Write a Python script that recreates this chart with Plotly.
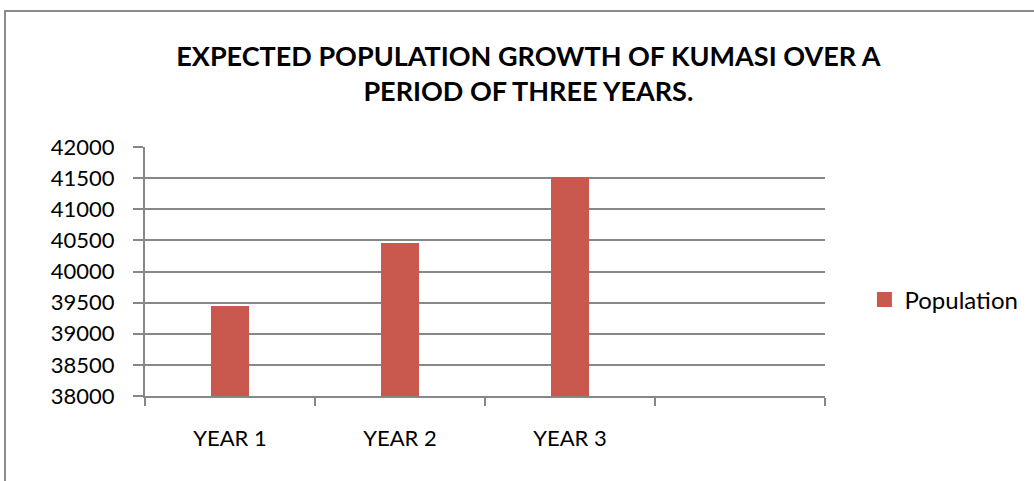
import plotly.graph_objects as go

categories = ["YEAR 1", "YEAR 2", "YEAR 3"]
population = [39440, 40460, 41520]
y_ticks = [38000, 38500, 39000, 39500, 40000, 40500, 41000, 41500, 42000]

FONT = "Lato"
GRID = "#878787"
BAR = "#C9584F"

fig = go.Figure()
fig.add_trace(go.Bar(
    x=list(range(len(categories))), y=population, name="Population",
    marker=dict(color=BAR, line=dict(width=0)), width=0.225,
    showlegend=False,
))
# legend entry with a square swatch
fig.add_trace(go.Scatter(
    x=[None], y=[None], mode="markers", name="Population",
    marker=dict(symbol="square", size=15, color=BAR), showlegend=True,
))

fig.update_layout(
    width=1034, height=481,
    margin=dict(l=145, r=209, t=147, b=85, autoexpand=False),
    paper_bgcolor="white", plot_bgcolor="white",
    font=dict(family=FONT, color="black", size=22),
    title=dict(
        text="<b>EXPECTED POPULATION GROWTH OF KUMASI OVER A<br>PERIOD OF THREE YEARS.</b>",
        x=0.511, xanchor="center", y=0.863, yanchor="middle",
        font=dict(family=FONT, size=27, color="black"),
    ),
    bargap=0,
    showlegend=True,
    legend=dict(x=1.058, xanchor="left", y=0.386, yanchor="middle",
                font=dict(family=FONT, size=24, color="black"),
                itemwidth=30, bgcolor="rgba(0,0,0,0)"),
    xaxis=dict(
        range=[-0.5, 3.5], tickvals=[0, 1, 2], ticktext=categories,
        ticks="", showgrid=False, zeroline=False,
        showline=True, linecolor=GRID, linewidth=2,
        tickfont=dict(family=FONT, size=22, color="black"),
        ticklabelstandoff=22,
        minor=dict(ticks="outside", tick0=-0.5, dtick=1, ticklen=8,
                   tickcolor=GRID, tickwidth=2, showgrid=False),
    ),
    yaxis=dict(
        range=[38000, 42000], tickvals=y_ticks,
        ticktext=[str(v) for v in y_ticks],
        ticks="outside", ticklen=10, tickcolor=GRID, tickwidth=2,
        showgrid=True, gridcolor=GRID, gridwidth=2,
        zeroline=False, showline=True, linecolor=GRID, linewidth=2,
        tickfont=dict(family=FONT, size=22, color="black"),
        ticklabelstandoff=14,
    ),
    shapes=[dict(type="rect", xref="paper", yref="paper",
                 x0=(5 - 145) / 680, x1=(1040 - 145) / 680,
                 y0=(85 - 490) / 249, y1=(470 - 85) / 249,
                 line=dict(color="#8a8a8a", width=2), fillcolor="rgba(0,0,0,0)",
                 layer="below")],
)

fig.write_html("out.html")
